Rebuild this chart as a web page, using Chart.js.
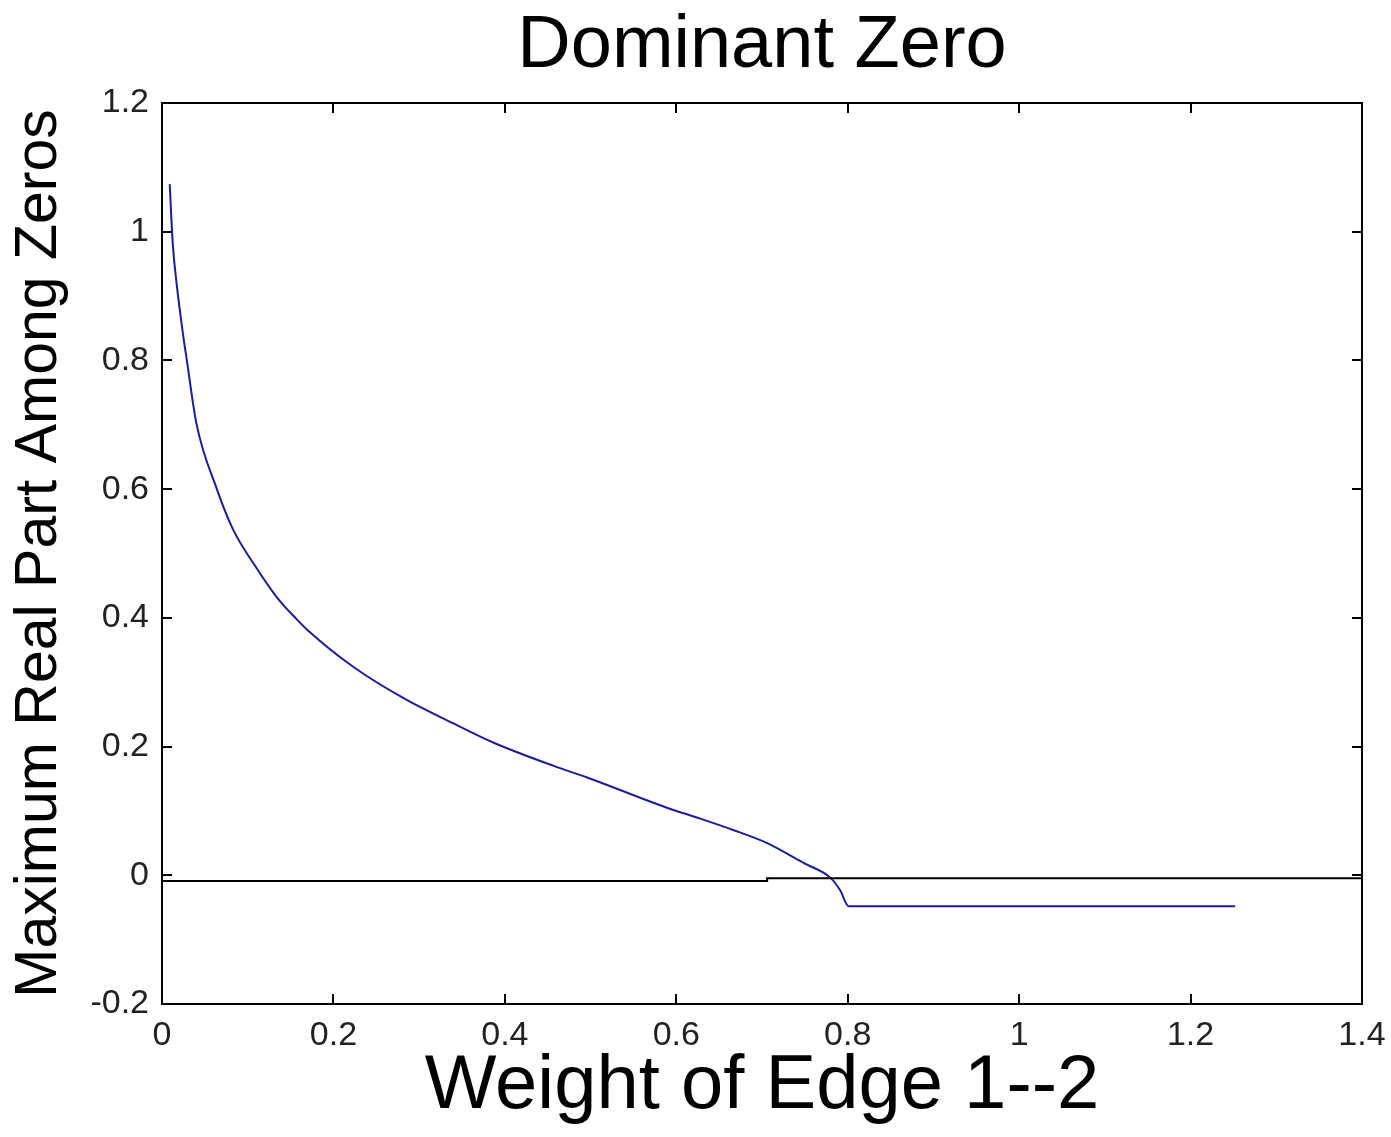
<!DOCTYPE html>
<html>
<head>
<meta charset="utf-8">
<script src="https://cdn.jsdelivr.net/npm/chart.js@4.4.1/dist/chart.umd.min.js"></script>
<style>
  html, body { margin: 0; padding: 0; background: #fff; }
  #wrap { width: 1391px; height: 1137px; }
</style>
</head>
<body>
<div id="wrap"><canvas id="chart"></canvas></div>
<script>
// -----------------------------
// DATA
// -----------------------------
const weightX = [0.009, 0.0125, 0.017, 0.0249, 0.029, 0.040, 0.064, 0.083, 0.107, 0.134, 0.157, 0.169,
                 0.223, 0.286, 0.340, 0.387, 0.457, 0.496, 0.589, 0.628, 0.667, 0.706, 0.745, 0.752,
                 0.780, 0.791, 0.801, 1.252];
const maxRealY = [1.074, 0.982, 0.920, 0.837, 0.800, 0.703, 0.600, 0.537, 0.484, 0.432, 0.398, 0.382,
                  0.324, 0.272, 0.236, 0.206, 0.170, 0.152, 0.105, 0.088, 0.070, 0.050, 0.022, 0.017,
                  -0.004, -0.023, -0.048, -0.048];

// black reference line near zero (small step around 0.706)
const refX = [0, 0.706, 0.706, 1.4];
const refY = [-0.009, -0.009, -0.0045, -0.0045];

const xTicks = [0, 0.2, 0.4, 0.6, 0.8, 1, 1.2, 1.4];
const yTicks = [-0.2, 0, 0.2, 0.4, 0.6, 0.8, 1, 1.2];

const FONT = "'Liberation Sans', Arial, Helvetica, sans-serif";

function toPoints(xs, ys) {
    return xs.map((x, i) => ({ x: x, y: ys[i] }));
}

// -----------------------------
// FRAME + INWARD TICKS (matlab style)
// -----------------------------
const boxTicks = {
    id: 'boxTicks',
    afterDraw(chart) {
        const { ctx, chartArea: a, scales } = chart;
        const len = 10;
        ctx.save();
        ctx.strokeStyle = '#000';
        ctx.lineWidth = 2;
        ctx.strokeRect(a.left, a.top, a.right - a.left, a.bottom - a.top);
        ctx.beginPath();
        xTicks.forEach(v => {
            const px = Math.round(scales.x.getPixelForValue(v));
            ctx.moveTo(px, a.bottom); ctx.lineTo(px, a.bottom - len);
            ctx.moveTo(px, a.top); ctx.lineTo(px, a.top + len);
        });
        yTicks.forEach(v => {
            const py = Math.round(scales.y.getPixelForValue(v));
            ctx.moveTo(a.left, py); ctx.lineTo(a.left + len, py);
            ctx.moveTo(a.right, py); ctx.lineTo(a.right - len, py);
        });
        ctx.stroke();
        ctx.restore();
    }
};

const ctx = document.getElementById('chart').getContext('2d');
new Chart(ctx, {
    type: 'scatter',
    data: {
        datasets: [
            {
                label: 'zero line',
                data: toPoints(refX, refY),
                showLine: true,
                borderColor: '#000',
                borderWidth: 2,
                pointRadius: 0,
                tension: 0
            },
            {
                label: 'Maximum real part',
                data: toPoints(weightX, maxRealY),
                showLine: true,
                borderColor: '#1c1c9c',
                borderWidth: 2,
                pointRadius: 0,
                cubicInterpolationMode: 'monotone'
            }
        ]
    },
    options: {
        responsive: true,
        maintainAspectRatio: false,
        animation: false,
        layout: { padding: { left: 0, right: 29, top: 0, bottom: 0 } },
        plugins: {
            legend: { display: false },
            tooltip: { enabled: false },
            title: {
                display: true,
                fullSize: false,
                text: 'Dominant Zero',
                color: '#000',
                font: { family: FONT, size: 74, weight: 'normal', lineHeight: 1 },
                padding: { top: 10, bottom: 19 }
            }
        },
        scales: {
            x: {
                type: 'linear',
                min: 0,
                max: 1.4,
                afterBuildTicks: s => { s.ticks = xTicks.map(v => ({ value: v })); },
                afterFit: s => { s.height = 133; s.paddingRight = 0; s.paddingLeft = 0; },
                grid: { display: false, drawTicks: false },
                border: { display: false },
                ticks: {
                    color: '#222',
                    padding: 11,
                    maxRotation: 0,
                    font: { family: FONT, size: 34 },
                    callback: v => String(v)
                },
                title: {
                    display: true,
                    text: 'Weight of Edge 1--2',
                    color: '#000',
                    font: { family: FONT, size: 76, lineHeight: 1 },
                    padding: { top: 0, bottom: 12 }
                }
            },
            y: {
                type: 'linear',
                min: -0.2,
                max: 1.2,
                afterBuildTicks: s => { s.ticks = yTicks.map(v => ({ value: v })); },
                afterFit: s => { s.width = 162; s.paddingTop = 0; s.paddingBottom = 0; },
                grid: { display: false, drawTicks: false },
                border: { display: false },
                ticks: {
                    color: '#222',
                    padding: 13,
                    font: { family: FONT, size: 34 },
                    callback: v => String(v)
                },
                title: {
                    display: true,
                    text: 'Maximum Real Part Among Zeros',
                    color: '#000',
                    font: { family: FONT, size: 59, lineHeight: 1 },
                    padding: { top: 10, bottom: 0 }
                }
            }
        }
    },
    plugins: [boxTicks]
});
</script>
</body>
</html>
